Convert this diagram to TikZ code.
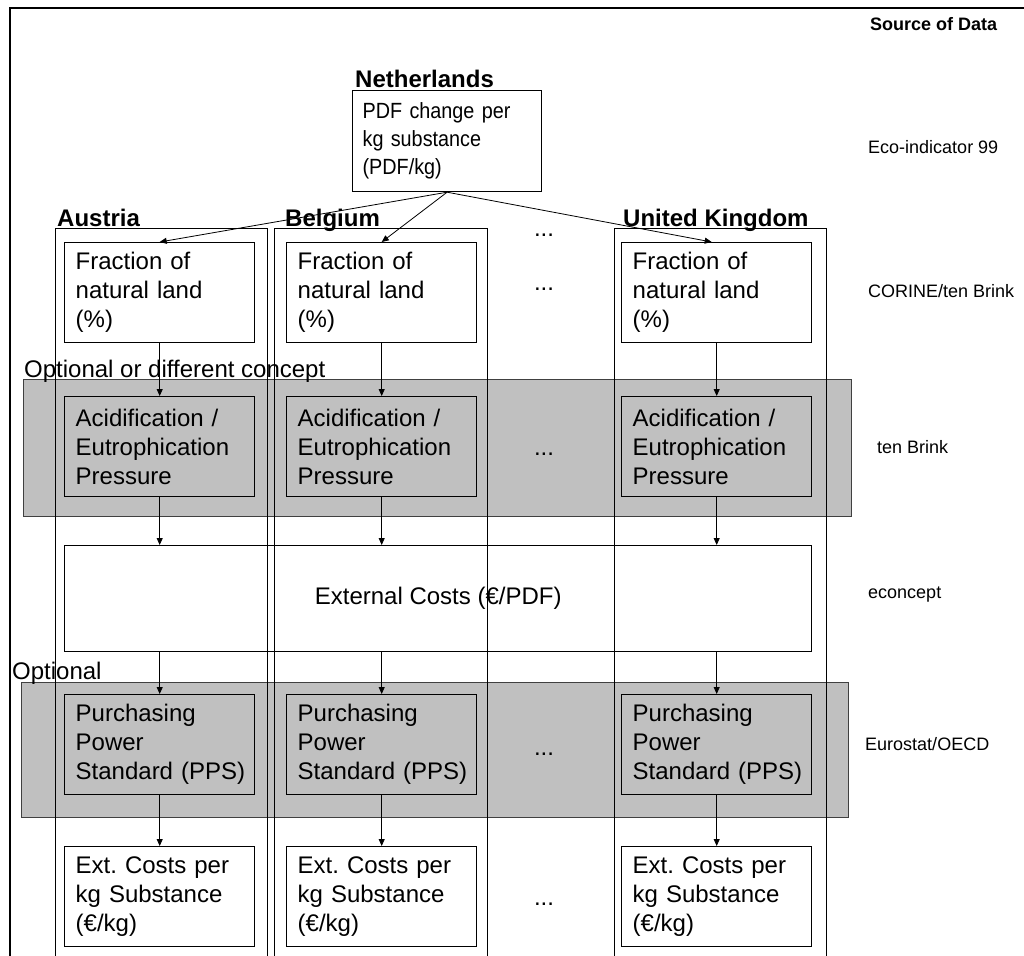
\documentclass[tikz,border=0pt]{standalone}
\usepackage{fontspec}
\setmainfont{Liberation Sans}
\newfontfamily\narrowfont[FakeStretch=0.9]{Liberation Sans}
\usetikzlibrary{arrows.meta}
\definecolor{bandgray}{RGB}{192,192,192}
\begin{document}
\begin{tikzpicture}[x=1pt,y=-1pt,
 box/.style={draw, line width=1.4pt, minimum width=190pt, minimum height=100pt, text width=168pt, inner xsep=11pt, inner ysep=0pt, align=left, anchor=north west, font=\fontsize{24}{29}\selectfont\frenchspacing},
 gbox/.style={box, fill=bandgray},
 band/.style={draw=black!75, line width=0.8pt, fill=bandgray, anchor=north west, inner sep=0pt},
 col/.style={line width=0.8pt},
 arr/.style={line width=0.8pt, -{Triangle[length=7pt,width=6pt]}},
 lab/.style={anchor=base west, inner sep=0pt, font=\fontsize{24}{29}\selectfont},
 clab/.style={anchor=base west, inner sep=0pt, font=\bfseries\fontsize{24}{29}\selectfont},
 src/.style={anchor=base west, inner sep=0pt, font=\fontsize{18}{22}\selectfont},
 dots/.style={anchor=base, inner sep=0pt, font=\fontsize{24}{29}\selectfont}]
\useasboundingbox (0,0) rectangle (1024,955);
\draw[line width=2pt] (10,960) -- (10,8) -- (1030,8);

% bands
\node[band, minimum width=828pt, minimum height=137pt] (band1) at (23,379) {};
\node[band, minimum width=827pt, minimum height=135pt] (band2) at (21,682) {};

% external costs box
\node[draw, line width=1.4pt, fill=white, minimum width=747pt, minimum height=106pt, anchor=north west, inner sep=0pt, font=\fontsize{24}{29}\selectfont] (ext) at (64,545) {External Costs (€/PDF)};

% columns
\draw[col] (55,960) |- (267,228) -- (267,960);
\draw[col] (274,960) |- (487,228) -- (487,960);
\draw[col] (614,960) |- (826,228) -- (826,960);

% Netherlands
\node[draw, line width=1.2pt, anchor=north west, minimum width=189pt, minimum height=101pt, text width=169pt, inner xsep=10pt, inner ysep=0pt, align=left, font=\narrowfont\fontsize{22}{28}\selectfont] (nl) at (352,90) {PDF~change~per\\kg~substance\\(PDF/kg)};
\node[clab] (nllab) at (355,88) {Netherlands};

% country labels
\node[clab] (atlab) at (57,226) {Austria};
\node[clab] (belab) at (285,226) {Belgium};
\node[clab] (uklab) at (623,226) {United Kingdom};

% boxes Austria
\node[box] (fa) at (64,242) {Fraction of\\natural land\\(\%)};
\node[gbox] (aa) at (64,396) {Acidification /\\Eutrophication\\Pressure};
\node[gbox] (pa) at (64,694) {Purchasing\\Power\\Standard~(PPS)};
\node[box] (ea) at (64,846) {Ext.~Costs~per\\kg Substance\\(€/kg)};
% boxes Belgium
\node[box] (fb) at (286,242) {Fraction of\\natural land\\(\%)};
\node[gbox] (ab) at (286,396) {Acidification /\\Eutrophication\\Pressure};
\node[gbox] (pb) at (286,694) {Purchasing\\Power\\Standard~(PPS)};
\node[box] (eb) at (286,846) {Ext.~Costs~per\\kg Substance\\(€/kg)};
% boxes UK
\node[box] (fu) at (621,242) {Fraction of\\natural land\\(\%)};
\node[gbox] (au) at (621,396) {Acidification /\\Eutrophication\\Pressure};
\node[gbox] (pu) at (621,694) {Purchasing\\Power\\Standard~(PPS)};
\node[box] (eu) at (621,846) {Ext.~Costs~per\\kg Substance\\(€/kg)};

% arrows
\draw[arr] (nl.south) -- (fa.north);
\draw[arr] (nl.south) -- (fb.north);
\draw[arr] (nl.south) -- ([xshift=-5pt]fu.north);
\foreach \c in {a,b,u}{
  \draw[arr] (f\c.south) -- (a\c.north);
  \draw[arr] (a\c.south) -- (a\c.south |- ext.north);
  \draw[arr] (p\c.north |- ext.south) -- (p\c.north);
  \draw[arr] (p\c.south) -- (e\c.north);
}

% band labels
\node[lab] (opt1) at (24,377) {Optional or different concept};
\node[lab] (opt2) at (12,679) {Optional};

% dots
\node[dots] (d0) at (544,236) {...};
\node[dots] (d1) at (544,290) {...};
\node[dots] (d2) at (544,455) {...};
\node[dots] (d3) at (544,755) {...};
\node[dots] (d4) at (544,905) {...};

% source column
\node[src, font=\bfseries\fontsize{18}{22}\selectfont] (s0) at (870,31) {Source of Data};
\node[src] (s1) at (868,153) {Eco-indicator 99};
\node[src] (s2) at (868,297) {CORINE/ten Brink};
\node[src] (s3) at (877,453) {ten Brink};
\node[src] (s4) at (868,598) {econcept};
\node[src] (s5) at (865,750) {Eurostat/OECD};
\end{tikzpicture}
\end{document}
